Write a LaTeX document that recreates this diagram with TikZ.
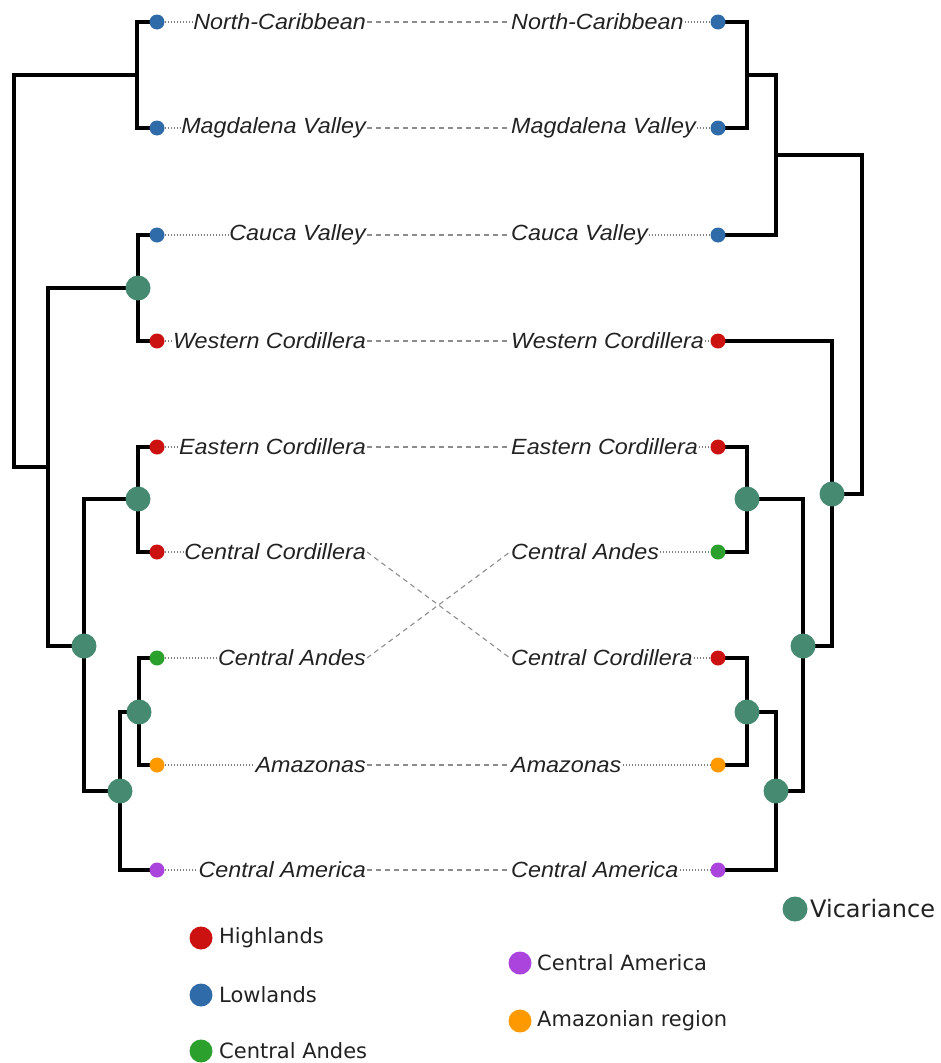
\documentclass[tikz,border=0pt]{standalone}
\usepackage{fontspec}
\setmainfont{Liberation Sans}
\newfontfamily\lblfont[FakeStretch=1.06]{Liberation Sans}
\newfontfamily\legfont{DejaVu Sans}
\definecolor{lowblue}{HTML}{2F6BA8}
\definecolor{highred}{HTML}{CC1111}
\definecolor{andesgreen}{HTML}{2CA02C}
\definecolor{amorange}{HTML}{FF9900}
\definecolor{campurple}{HTML}{AA44DD}
\definecolor{vicgreen}{HTML}{468A72}
\definecolor{txtgray}{HTML}{222222}
\pgfdeclarelayer{bg}
\pgfsetlayers{bg,main}
\begin{document}
\begin{tikzpicture}[x=1pt,y=-1pt,
  tree/.style={line width=3.2pt,black,line cap=rect},
  tip/.style={circle,inner sep=0pt,minimum size=15pt},
  vic/.style={circle,fill=vicgreen,inner sep=0pt,minimum size=25pt},
  lbl/.style={font=\lblfont\itshape\fontsize{22}{22}\selectfont,text=txtgray,inner sep=1pt},
  dotline/.style={gray,dash pattern=on 1.3pt off 1.7pt,line width=1.1pt},
  linkdash/.style={gray!90,dash pattern=on 5pt off 4pt,line width=1.1pt},
  legdot/.style={circle,inner sep=0pt,minimum size=23pt},
  legtxt/.style={font=\legfont\fontsize{21}{21}\selectfont,text=txtgray,inner sep=0pt,anchor=west},
]
\useasboundingbox (0,0) rectangle (940,1063);

% ---------- left tips ----------
\node[tip,fill=lowblue]    (lNC)  at (157,22)  {};
\node[tip,fill=lowblue]    (lMV)  at (157,128) {};
\node[tip,fill=lowblue]    (lCV)  at (157,235) {};
\node[tip,fill=highred]    (lWC)  at (157,341) {};
\node[tip,fill=highred]    (lEC)  at (157,447) {};
\node[tip,fill=highred]    (lCC)  at (157,552) {};
\node[tip,fill=andesgreen] (lCAn) at (157,658) {};
\node[tip,fill=amorange]   (lAm)  at (157,765) {};
\node[tip,fill=campurple]  (lCAm) at (157,870) {};

% ---------- right tips ----------
\node[tip,fill=lowblue]    (rNC)  at (718,22)  {};
\node[tip,fill=lowblue]    (rMV)  at (718,128) {};
\node[tip,fill=lowblue]    (rCV)  at (718,235) {};
\node[tip,fill=highred]    (rWC)  at (718,341) {};
\node[tip,fill=highred]    (rEC)  at (718,447) {};
\node[tip,fill=andesgreen] (rCAn) at (718,552) {};
\node[tip,fill=highred]    (rCC)  at (718,658) {};
\node[tip,fill=amorange]   (rAm)  at (718,765) {};
\node[tip,fill=campurple]  (rCAm) at (718,870) {};

% ---------- left internal nodes ----------
\coordinate (lA) at (137,75);
\node[vic] (lB) at (138,288) {};
\coordinate (lC) at (48,467);
\coordinate (lR) at (14,271);
\node[vic] (lD) at (84,646) {};
\node[vic] (lE) at (138,499) {};
\node[vic] (lF) at (120,791) {};
\node[vic] (lG) at (139,712) {};

% ---------- right internal nodes ----------
\coordinate (rA) at (747,75);
\coordinate (rB) at (776,155);
\node[vic] (rE) at (747,499) {};
\node[vic] (rG) at (747,712) {};
\node[vic] (rF) at (776,791) {};
\node[vic] (rD) at (803,646) {};
\node[vic] (rC) at (832,494) {};
\coordinate (rR) at (862,324);

\begin{pgfonlayer}{bg}
  % left tree
  \draw[tree] (lA.center) |- (lNC.center);
  \draw[tree] (lA.center) |- (lMV.center);
  \draw[tree] (lB.center) |- (lCV.center);
  \draw[tree] (lB.center) |- (lWC.center);
  \draw[tree] (lR) |- (lA);
  \draw[tree] (lR) |- (lC);
  \draw[tree] (lC) |- (lB.center);
  \draw[tree] (lC) |- (lD.center);
  \draw[tree] (lD.center) |- (lE.center);
  \draw[tree] (lD.center) |- (lF.center);
  \draw[tree] (lE.center) |- (lEC.center);
  \draw[tree] (lE.center) |- (lCC.center);
  \draw[tree] (lF.center) |- (lG.center);
  \draw[tree] (lF.center) |- (lCAm.center);
  \draw[tree] (lG.center) |- (lCAn.center);
  \draw[tree] (lG.center) |- (lAm.center);
  % right tree
  \draw[tree] (rA) |- (rNC.center);
  \draw[tree] (rA) |- (rMV.center);
  \draw[tree] (rB) |- (rA);
  \draw[tree] (rB) |- (rCV.center);
  \draw[tree] (rR) |- (rB);
  \draw[tree] (rR) |- (rC.center);
  \draw[tree] (rC.center) |- (rWC.center);
  \draw[tree] (rC.center) |- (rD.center);
  \draw[tree] (rD.center) |- (rE.center);
  \draw[tree] (rD.center) |- (rF.center);
  \draw[tree] (rE.center) |- (rEC.center);
  \draw[tree] (rE.center) |- (rCAn.center);
  \draw[tree] (rF.center) |- (rG.center);
  \draw[tree] (rF.center) |- (rCAm.center);
  \draw[tree] (rG.center) |- (rCC.center);
  \draw[tree] (rG.center) |- (rAm.center);
\end{pgfonlayer}

% ---------- labels ----------
\node[lbl,anchor=east] (lNCl)  at (367,22)  {North-Caribbean};
\node[lbl,anchor=east] (lMVl)  at (367,128) {Magdalena Valley};
\node[lbl,anchor=east] (lCVl)  at (367,235) {Cauca Valley};
\node[lbl,anchor=east] (lWCl)  at (367,341) {Western Cordillera};
\node[lbl,anchor=east] (lECl)  at (367,447) {Eastern Cordillera};
\node[lbl,anchor=east] (lCCl)  at (367,552) {Central Cordillera};
\node[lbl,anchor=east] (lCAnl) at (367,658) {Central Andes};
\node[lbl,anchor=east] (lAml)  at (367,765) {Amazonas};
\node[lbl,anchor=east] (lCAml) at (367,870) {Central America};

\node[lbl,anchor=west] (rNCl)  at (510,22)  {North-Caribbean};
\node[lbl,anchor=west] (rMVl)  at (510,128) {Magdalena Valley};
\node[lbl,anchor=west] (rCVl)  at (510,235) {Cauca Valley};
\node[lbl,anchor=west] (rWCl)  at (510,341) {Western Cordillera};
\node[lbl,anchor=west] (rECl)  at (510,447) {Eastern Cordillera};
\node[lbl,anchor=west] (rCAnl) at (510,552) {Central Andes};
\node[lbl,anchor=west] (rCCl)  at (510,658) {Central Cordillera};
\node[lbl,anchor=west] (rAml)  at (510,765) {Amazonas};
\node[lbl,anchor=west] (rCAml) at (510,870) {Central America};

% ---------- dotted tip-label lines ----------
\foreach \n in {NC,MV,CV,WC,EC,CC,CAn,Am,CAm}{
  \draw[dotline] (l\n.east) -- (l\n l.west);
  \draw[dotline] (r\n l.east) -- (r\n.west);
}

% ---------- dashed links ----------
\foreach \n in {NC,MV,CV,WC,EC,CC,CAn,Am,CAm}{
  \draw[linkdash] (l\n l.east) -- (r\n l.west);
}

% ---------- legend ----------
\node[legdot,fill=highred]    (kHi)  at (201,938)  {};
\node[legtxt] (kHit)  at (219,938)  {Highlands};
\node[legdot,fill=lowblue]    (kLo)  at (201,995)  {};
\node[legtxt] (kLot)  at (219,995)  {Lowlands};
\node[legdot,fill=andesgreen] (kCA)  at (201,1051) {};
\node[legtxt] (kCAt)  at (219,1051) {Central Andes};
\node[legdot,fill=campurple]  (kCm)  at (520,963)  {};
\node[legtxt] (kCmt)  at (537,963)  {Central America};
\node[legdot,fill=amorange]   (kAm)  at (520,1021) {};
\node[legtxt] (kAmt)  at (537,1021) {Amazonian region};
\node[vic] (kVic) at (795,909) {};
\node[legtxt,font=\legfont\fontsize{24}{24}\selectfont] (kVict) at (810,909) {Vicariance};
\end{tikzpicture}
\end{document}
